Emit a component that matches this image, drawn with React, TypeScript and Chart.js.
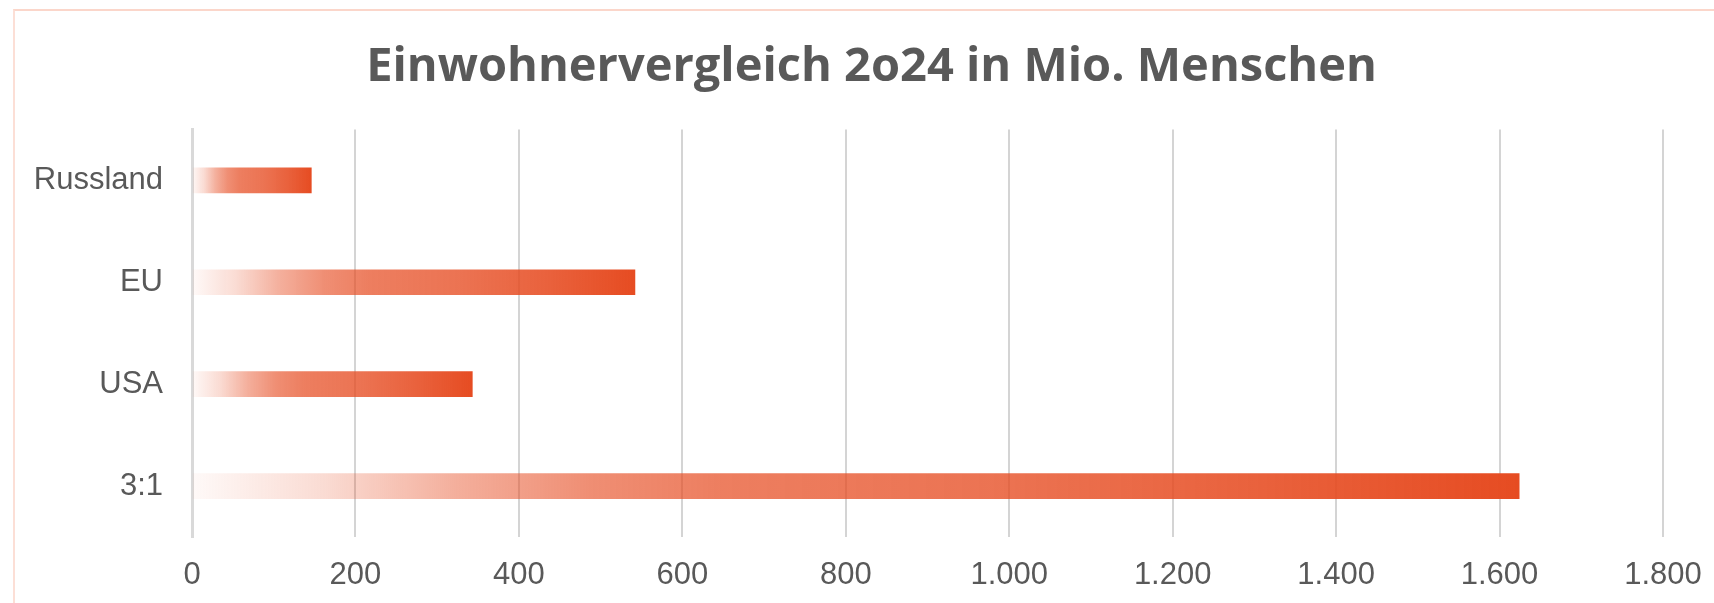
import React, { useEffect, useRef } from "react";
import { Chart, registerables } from "chart.js";

Chart.register(...registerables);

const TITLE = "Einwohnervergleich 2o24 in Mio. Menschen";
const categories = ["Russland", "EU", "USA", "3:1"];
const populations = [146, 542, 343, 1624];
const axisMax = 1800;
const axisStep = 200;

const BAR_RGB = "230,76,34";
const gradientStops: [number, number][] = [
  [0, 0.03],
  [0.1, 0.2],
  [0.2, 0.45],
  [0.3, 0.63],
  [0.4, 0.72],
  [0.6, 0.78],
  [0.8, 0.88],
  [1, 1],
];

function formatDe(v: number): string {
  return String(Math.round(v)).replace(/\B(?=(\d{3})+(?!\d))/g, ".");
}

const W = 1714;
const H = 603;

export default function App() {
  const canvasRef = useRef<HTMLCanvasElement | null>(null);

  useEffect(() => {
    const canvas = canvasRef.current;
    if (!canvas) return;
    const chart = new Chart(canvas, {
      type: "bar",
      data: {
        labels: categories,
        datasets: [
          {
            label: "Einwohner",
            data: populations,
            barThickness: 25,
            borderWidth: 0,
            backgroundColor: (ctx: any) => {
              const c = ctx.chart;
              const xs = c.scales && c.scales.x;
              if (!c.chartArea || !xs || ctx.type !== "data") return `rgb(${BAR_RGB})`;
              const x0 = xs.getPixelForValue(0);
              const x1 = xs.getPixelForValue(ctx.raw);
              if (!isFinite(x0) || !isFinite(x1) || x1 <= x0) return `rgb(${BAR_RGB})`;
              const g = c.ctx.createLinearGradient(x0, 0, x1, 0);
              gradientStops.forEach(([p, a]) => g.addColorStop(p, `rgba(${BAR_RGB},${a})`));
              return g;
            },
          },
        ],
      },
      plugins: [
        {
          id: "labelClipFix",
          afterLayout(c: any) {
            if (c.scales.y) c.scales.y.left = 0;
          },
        },
      ],
      options: {
        indexAxis: "y",
        responsive: false,
        maintainAspectRatio: false,
        animation: false,
        layout: { padding: { left: 80, right: 51, top: 0, bottom: 9 } },
        plugins: {
          legend: { display: false },
          tooltip: { enabled: false },
          title: {
            display: true,
            text: TITLE,
            color: "#595959",
            font: { family: "'Open Sans', sans-serif", size: 47, weight: "bold" },
            padding: { top: 39, bottom: 34 },
          },
        },
        scales: {
          x: {
            min: 0,
            max: axisMax,
            ticks: {
              stepSize: axisStep,
              color: "#595959",
              font: { family: "'Liberation Sans', Arial, sans-serif", size: 31 },
              padding: 20,
              maxRotation: 0,
              callback: (v: any) => formatDe(Number(v)),
            },
            grid: { color: "#d4d4d4", lineWidth: 2, drawTicks: false },
            border: { display: false },
            afterFit: (scale: any) => {
              scale.height = 57;
              scale.paddingRight = 0;
              scale.paddingLeft = 0;
            },
          },
          y: {
            ticks: {
              color: "#595959",
              font: { family: "'Liberation Sans', Arial, sans-serif", size: 31 },
              padding: 29,
            },
            grid: { display: false, drawTicks: false },
            border: { display: true, color: "#d9d9d9", width: 3 },
            afterFit: (scale: any) => {
              scale.width = 112;
            },
          },
        },
      },
    });
    return () => chart.destroy();
  }, []);

  return (
    <div
      style={{
        position: "fixed",
        left: 0,
        top: 0,
        width: W,
        height: H,
        background: "#ffffff",
        overflow: "hidden",
      }}
    >
      <div
        style={{
          position: "absolute",
          left: 13,
          top: 9,
          width: 1800,
          height: 700,
          borderTop: "2px solid #fbd6ca",
          borderLeft: "2px solid #fcdfd6",
          boxSizing: "border-box",
        }}
      />
      <canvas
        ref={canvasRef}
        width={W}
        height={H}
        style={{ position: "absolute", left: 0, top: 0, width: W, height: H }}
      />
    </div>
  );
}
